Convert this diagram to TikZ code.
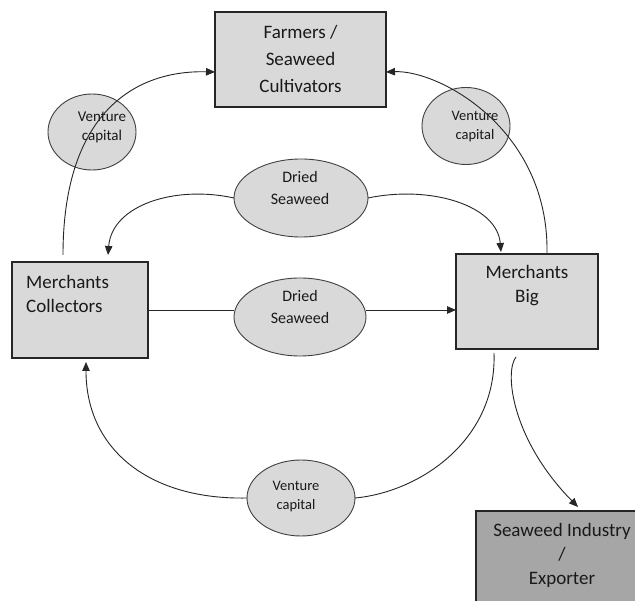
\documentclass[tikz,border=0pt]{standalone}
\usepackage{fontspec}
\setmainfont{Carlito}
\usetikzlibrary{shapes.geometric,arrows.meta}
\definecolor{boxgray}{HTML}{D9D9D9}
\definecolor{indgray}{HTML}{A6A6A6}
\begin{document}
\begin{tikzpicture}[x=1pt,y=-1pt,
  box/.style={draw=black!85, line width=1.2pt, fill=boxgray, inner sep=0pt, outer sep=0pt},
  oval/.style={ellipse, draw=black!75, line width=0.9pt, fill=boxgray, inner sep=0pt, outer sep=0pt},
  boxtext/.style={font=\fontsize{19}{24}\selectfont, inner sep=0pt, text=black!90},
  bigtext/.style={font=\fontsize{19}{27}\selectfont, inner sep=0pt, text=black!90},
  dstext/.style={font=\fontsize{16}{22}\selectfont, inner sep=0pt, text=black!90, align=center},
  vctext/.style={font=\fontsize{14.5}{19}\selectfont, inner sep=0pt, text=black!90, align=center},
  conn/.style={line width=0.9pt, draw=black!85},
  arr/.style={conn, -{Triangle[length=9pt,width=7.5pt]}}
]
\clip (0,0) rectangle (635,601);
\fill[white] (0,0) rectangle (635,601);

% boxes
\node[box, minimum width=171pt, minimum height=95pt] (farm) at (300.5,59.5) {};
\node[bigtext, align=center] (farmt) at (300.5,59) {Farmers /\\Seaweed\\Cultivators};
\node[box, minimum width=136pt, minimum height=96pt] (coll) at (80,310) {};
\node[boxtext, align=left, anchor=west] (collt) at (26,294) {Merchants\\Collectors};
\node[box, minimum width=142pt, minimum height=95pt] (big) at (527,301.5) {};
\node[boxtext, align=center] (bigt) at (527,286) {Merchants\\Big};
\node[box, fill=indgray, minimum width=172pt, minimum height=110pt] (ind) at (562,566) {};
\node[boxtext, align=center] (indt) at (562,555) {Seaweed Industry\\/\\Exporter};

% ellipses
\node[oval, minimum width=88pt, minimum height=76pt] (vc1) at (92,132) {};
\node[vctext, font=\fontsize{15}{19}\selectfont] (vc1t) at (102,127.5) {Venture\\capital};
\node[oval, minimum width=88pt, minimum height=77pt] (vc2) at (466,126) {};
\node[vctext] (vc2t) at (475,126.5) {Venture\\capital};
\node[oval, minimum width=134pt, minimum height=78pt] (ds1) at (301,198) {};
\node[dstext] (ds1t) at (300,188) {Dried\\Seaweed};
\node[oval, minimum width=132pt, minimum height=78pt] (ds2) at (300,317) {};
\node[dstext] (ds2t) at (300,307) {Dried\\Seaweed};
\node[oval, minimum width=108pt, minimum height=76pt] (vc3) at (301,498) {};
\node[vctext] (vc3t) at (296,497) {Venture\\capital};

% free ends
\coordinate (c1) at (63,255);
\coordinate (c2) at (547,253);
\coordinate (c3) at (494,353);
\coordinate (c4) at (516,357);

% connectors
\draw[arr] (c1) .. controls (63,115) and (133,70) .. ([yshift=-12.5pt]farm.west);
\draw[arr] (c2) .. controls (549,130) and (440,70) .. ([yshift=-12.5pt]farm.east);
\draw[arr] (ds1.west) .. controls (175,185) and (112,205) .. ([xshift=28pt,yshift=7pt]coll.north);
\draw[arr] (ds1.east) .. controls (430,185) and (497,205) .. ([xshift=-26pt,yshift=2pt]big.north);
\draw[conn] (coll.east) -- (coll.east -| ds2.west);
\draw[arr] (ds2.east |- coll.east) -- (big.west |- coll.east);
\draw[conn] (c3) .. controls (497,440) and (420,492) .. (vc3.east);
\draw[arr] (vc3.west) .. controls (150,500) and (86,450) .. ([xshift=6pt,yshift=-4pt]coll.south);
\draw[arr] (c4) .. controls (504,372) and (512,440) .. ([xshift=16pt,yshift=4pt]ind.north);
\end{tikzpicture}
\end{document}
